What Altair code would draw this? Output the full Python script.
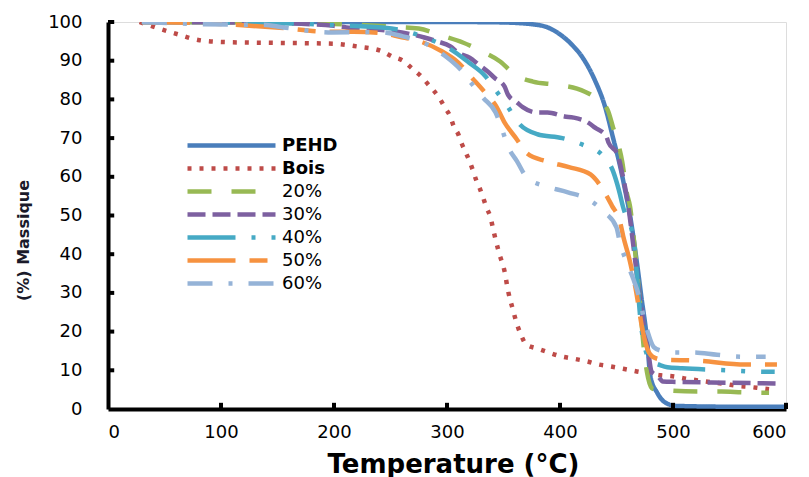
import altair as alt
import pandas as pd

# ---------------- data ----------------
series_names = ["PEHD", "Bois", "20%", "30%", "40%", "50%", "60%"]
series_colors = ["#4A7EBB", "#BE4B48", "#98B954", "#7D60A0", "#46AAC5", "#F69240", "#95B3D7"]

pehd_T = [30, 100, 200, 300, 347, 376, 390, 400, 410, 420, 430, 440, 447, 453, 458, 462, 468, 472, 477, 480, 486, 493, 503, 550, 600]
pehd_M = [100, 100, 100, 100, 99.9, 99.4, 98.5, 96.8, 94.3, 90.8, 85.5, 78, 70, 63, 56, 50, 38, 29, 18, 8.4, 4.2, 1.7, 0.8, 0.6, 0.6]

bois_T = [28, 42, 62, 81, 105, 150, 199, 220, 242, 252, 261, 269, 277, 283, 289, 294, 298, 303, 306, 310, 313, 317, 320, 323, 326, 329, 332, 335, 338, 342, 346, 351, 354, 358, 363, 366, 370, 380, 390, 401, 412, 424, 434, 445, 456, 468, 478, 489, 501, 512, 522, 534, 546, 556, 568, 579, 585]
bois_M = [100, 98.6, 96.8, 95.3, 94.8, 94.6, 94.4, 93.7, 92.5, 91, 90, 88, 86, 84, 82, 80, 78, 75.5, 73, 71, 68.6, 66, 64, 61.6, 59, 57, 54.6, 52, 50, 45, 40.4, 35.5, 30.6, 26, 21, 18.8, 16.7, 15.6, 14.6, 13.6, 13, 12.3, 11.5, 11, 10.4, 9.7, 9.2, 8.7, 8.4, 7.8, 7.4, 6.9, 6.5, 6, 5.7, 5.3, 5.1]

p20_T = [30, 150, 200, 250, 275, 295, 314, 331, 347, 360, 376, 396, 415, 431, 442, 447, 451, 455, 459, 462, 466, 470, 475, 478, 482, 495, 522, 543, 562, 585]
p20_M = [100, 99.8, 99.5, 98.8, 98.3, 96.5, 94.7, 92.4, 89.8, 86.4, 84.6, 83.8, 82.8, 80.5, 77.4, 72.7, 69, 64, 56, 52.3, 42, 30, 13.5, 8, 5.2, 4.8, 4.5, 4.5, 4.3, 4.2]

p30_T = [30, 150, 200, 211, 226, 240, 260, 280, 291, 303, 310, 320, 328, 336, 342, 351, 354, 362, 367, 380, 389, 404, 412, 425, 431, 441, 443, 451, 455, 460, 465, 470, 475, 478, 481, 487, 491, 503, 550, 592]
p30_M = [100, 99.7, 99, 98.6, 98.3, 98, 97.3, 96, 95, 93.7, 92, 90.8, 89, 87.2, 85.6, 83.3, 81.2, 79.2, 78, 76.6, 76.6, 75.6, 75.3, 74, 72.7, 70.4, 68.8, 65.7, 61, 53.3, 42, 30, 19.8, 15, 9.7, 8.4, 7.1, 7, 6.8, 6.6]

p40_T = [30, 150, 200, 245, 265, 285, 303, 319, 334, 344, 354, 363, 380, 402, 420, 437, 447, 452, 456, 465, 472, 477, 482, 487, 495, 508, 549, 571, 590]
p40_M = [100, 99.7, 99.2, 98.5, 97.5, 95.5, 93, 89.6, 86, 82, 78, 74, 71, 70, 68.3, 65.7, 61.4, 56.7, 52, 44, 21, 14, 12, 11.5, 10.8, 10.5, 10, 9.7, 9.6]

p50_T = [30, 100, 152, 196, 217, 240, 258, 276, 295, 310, 322, 333, 344, 351, 361, 371, 388, 408, 427, 438, 446, 453, 456, 462, 467, 473, 476, 482, 490, 521, 564, 592]
p50_M = [100, 99.5, 98.5, 97.5, 97.5, 97.2, 96.2, 95, 92.5, 89.5, 85.6, 82, 78, 74, 70, 66, 64, 62.5, 60.6, 56.7, 52.5, 48.5, 44.6, 38, 31, 20.5, 16.7, 13.5, 12.8, 12.5, 11.5, 11.5]

p60_T = [30, 120, 137, 155, 198, 240, 261, 279, 297, 312, 322, 332, 343, 349, 354, 362, 371, 388, 407, 426, 440, 450, 453, 459, 465, 468, 477, 483, 490, 497, 518, 539, 561, 582]
p60_M = [100, 99.3, 99.3, 98.6, 97.3, 97.4, 96.3, 94.7, 91.5, 87.7, 84, 80.4, 76.6, 72, 67.8, 64, 59.7, 57.5, 56, 54, 50.7, 46.9, 43, 38, 33.5, 31, 20.5, 16, 15, 14.6, 14.6, 14, 13.5, 13.5]

x_tick_values = [0, 100, 200, 300, 400, 500, 600]
y_tick_values = [0, 10, 20, 30, 40, 50, 60, 70, 80, 90, 100]

# ---------------- build table ----------------
all_T = [pehd_T, bois_T, p20_T, p30_T, p40_T, p50_T, p60_T]
all_M = [pehd_M, bois_M, p20_M, p30_M, p40_M, p50_M, p60_M]
rows = []
for name, ts, ms in zip(series_names, all_T, all_M):
    for i, (t, m) in enumerate(zip(ts, ms)):
        rows.append({"serie": name, "T": t, "M": m, "ordre": i})
df = pd.DataFrame(rows)

dashes = [[1, 0], [4, 8], [24, 20], [18, 7], [48, 16, 4, 16, 4, 16], [48, 14, 18, 14], [25, 16, 4, 16]]

FONT = "DejaVu Sans"

x_scale = alt.Scale(domain=[0, 600], nice=False)
y_scale = alt.Scale(domain=[0, 100], nice=False)

x_axis = alt.Axis(title="Temperature (°C)", values=x_tick_values, grid=False, ticks=False,
                  domainColor="black", domainWidth=4, labelFont=FONT, labelFontSize=18,
                  labelColor="black", labelPadding=14, labelOverlap=False,
                  titleFont=FONT, titleFontSize=26, titleFontWeight="bold", titleColor="black",
                  titleX=345, titleY=63, titleBaseline="alphabetic")
y_axis = alt.Axis(title="(%) Massique", values=y_tick_values, grid=False, ticks=False,
                  domainColor="black", domainWidth=4, labelFont=FONT, labelFontSize=18,
                  labelColor="black", labelPadding=26, labelOverlap=False,
                  titleFont=FONT, titleFontSize=16, titleFontWeight="bold", titleColor="#1a1a2a",
                  titleX=-85, titleY=218, titleBaseline="middle", titleAlign="center", titleAngle=-90)

lines = alt.Chart(df).mark_line(strokeWidth=4.5, strokeCap="butt", strokeJoin="round", clip=True,
                                interpolate="monotone").encode(
    x=alt.X("T:Q", scale=x_scale, axis=x_axis),
    y=alt.Y("M:Q", scale=y_scale, axis=y_axis),
    color=alt.Color("serie:N", scale=alt.Scale(domain=series_names, range=series_colors),
                    legend=alt.Legend(title=None, orient="none", legendX=110, legendY=110, padding=0,
                                      symbolType="M-4,0H4", symbolSize=484, symbolStrokeWidth=4.5,
                                      symbolFillColor="transparent",
                                      labelFont=FONT, labelFontSize=18, labelColor="black",
                                      labelFontWeight=alt.expr("datum.label == 'PEHD' || datum.label == 'Bois' ? 'bold' : 'normal'"),
                                      labelOffset=37, rowPadding=0)),
    strokeDash=alt.StrokeDash("serie:N", scale=alt.Scale(domain=series_names, range=dashes), legend=None),
    order="ordre:Q",
)

xt = pd.DataFrame({"v": x_tick_values[1:]})
yt = pd.DataFrame({"v": y_tick_values[1:]})

x_ticks = alt.Chart(xt).mark_rule(color="black", strokeWidth=4).encode(
    x=alt.X("v:Q", scale=x_scale, axis=x_axis), y=alt.datum(0, scale=y_scale, axis=y_axis), y2=alt.datum(1.6)
)
y_ticks = alt.Chart(yt).mark_rule(color="black", strokeWidth=4).encode(
    y=alt.Y("v:Q", scale=y_scale, axis=y_axis), x=alt.datum(0, scale=x_scale, axis=x_axis), x2=alt.datum(5.5)
)

chart = alt.layer(lines, x_ticks, y_ticks).properties(
    width=678, height=387,
    autosize=alt.AutoSizeParams(type="none"),
    padding={"left": 108, "top": 22, "right": 23, "bottom": 68},
).configure_view(stroke=None).configure(background="white")

chart.save("out.html", embed_options={"renderer": "svg", "actions": False})
